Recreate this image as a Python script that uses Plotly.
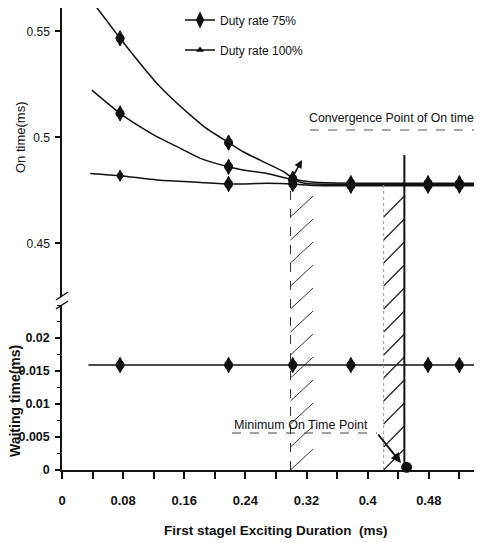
import plotly.graph_objects as go

# ---------------- data ----------------
# marker positions on the x axis (First stage Exciting Duration, ms)
marker_x = [0.076, 0.218, 0.302, 0.378, 0.479, 0.520]

# upper On-time curve (Duty rate 75%)
curve_a_x = [0.043, 0.076, 0.102, 0.124, 0.146, 0.168, 0.189, 0.218, 0.237, 0.268, 0.290, 0.305, 0.330, 0.378, 0.479, 0.520, 0.548]
curve_a_y = [0.5624, 0.5467, 0.5349, 0.5255, 0.5176, 0.5105, 0.5042, 0.4975, 0.4932, 0.4877, 0.4838, 0.4802, 0.4788, 0.4784, 0.4784, 0.4784, 0.4784]
marker_a_y = [0.5467, 0.4975, 0.4805, 0.4784, 0.4784, 0.4784]

# middle On-time curve
curve_b_x = [0.039, 0.076, 0.102, 0.124, 0.155, 0.181, 0.218, 0.237, 0.268, 0.294, 0.320, 0.378, 0.479, 0.520, 0.548]
curve_b_y = [0.5223, 0.5113, 0.5050, 0.5003, 0.4948, 0.4901, 0.4861, 0.4846, 0.4830, 0.4807, 0.4782, 0.4778, 0.4778, 0.4778, 0.4778]
marker_b_y = [0.5113, 0.4861, 0.4795, 0.4778, 0.4778, 0.4778]

# flat On-time curve (Duty rate 100%)
curve_c_x = [0.037, 0.076, 0.124, 0.168, 0.218, 0.268, 0.302, 0.330, 0.378, 0.479, 0.520, 0.548]
curve_c_y = [0.4830, 0.4819, 0.4799, 0.4790, 0.4780, 0.4783, 0.4780, 0.4773, 0.4772, 0.4772, 0.4772, 0.4772]
marker_c_y = [0.4819, 0.4780, 0.4780, 0.4772, 0.4772, 0.4772]

# waiting time
wait_line_x = [0.0345, 0.548]
wait_line_y = [0.0159, 0.0159]
wait_marker_y = [0.0159, 0.0159, 0.0159, 0.0159, 0.0159, 0.0159]

# minimum on-time point
min_point_x = [0.451]
min_point_y = [0.0004]

# convergence / minimum regions (x in ms) and levels
conv_region = [0.299, 0.3286]
min_region = [0.4209, 0.448]
converged_level = 0.4778
min_line_top = 0.4917

# ticks
x_tick_vals = [0, 0.08, 0.16, 0.24, 0.32, 0.40, 0.48]
x_tick_text = ["0", "0.08", "0.16", "0.24", "0.32", "0.4", "0.48"]
x_minor_vals = [0.04, 0.12, 0.20, 0.28, 0.36, 0.44, 0.52]
top_tick_vals = [0.45, 0.50, 0.55]
top_tick_text = ["0.45", "0.5", "0.55"]
bot_tick_vals = [0, 0.005, 0.01, 0.015, 0.02]
bot_tick_text = ["0", "0.005", "0.01", "0.015", "0.02"]

# ---------------- geometry ----------------
# the page body has an 8px margin, so the figure is drawn from (8, 8) of the window
WIN_W, WIN_H = 482, 543
BODY = 8
W, H = WIN_W - BODY, WIN_H - BODY
PLOT_L, PLOT_R, PLOT_T, PLOT_B = 62, 480, 8, 470   # plot area in window pixels
ML = PLOT_L - BODY
MR = WIN_W - PLOT_R
MT = PLOT_T - BODY
MB = WIN_H - PLOT_B
PW = PLOT_R - PLOT_L
PH = PLOT_B - PLOT_T


def pxx(px):
    return (px - PLOT_L) / PW


def pxy(py):
    return (PLOT_B - py) / PH


top_dom = [pxy(297), 1.0]
bot_dom = [0.0, pxy(305)]
top_range = [0.4247, 0.5610]
bot_range = [0.0, 0.025]
x_range = [0.0, 0.547]


def top_to_paper(v):
    return top_dom[0] + (v - top_range[0]) / (top_range[1] - top_range[0]) * (top_dom[1] - top_dom[0])


FONT = "Liberation Sans, Arial, sans-serif"
INK = "#111111"

fig = go.Figure()

line_style = dict(color=INK, width=1.5, shape="spline", smoothing=0.5)
for xs, ys in [(curve_a_x, curve_a_y), (curve_b_x, curve_b_y), (curve_c_x, curve_c_y)]:
    fig.add_trace(go.Scatter(x=xs, y=ys, mode="lines", line=line_style,
                             xaxis="x2", yaxis="y2", showlegend=False, hoverinfo="skip"))


def add_ovals(xs, ys, xa, ya, size=11):
    fig.add_trace(go.Scatter(x=xs, y=ys, mode="markers", xaxis=xa, yaxis=ya,
                             marker=dict(symbol="diamond-tall", size=size, color=INK,
                                         line=dict(width=1, color=INK)),
                             showlegend=False, hoverinfo="skip", cliponaxis=False))
    fig.add_trace(go.Scatter(x=xs, y=ys, mode="markers", xaxis=xa, yaxis=ya,
                             marker=dict(symbol="circle", size=size * 0.82, color=INK, line=dict(width=0)),
                             showlegend=False, hoverinfo="skip", cliponaxis=False))


add_ovals(marker_x, marker_a_y, "x2", "y2")
add_ovals(marker_x, marker_b_y, "x2", "y2")
add_ovals(marker_x[1:], marker_c_y[1:], "x2", "y2")
add_ovals(marker_x[:1], marker_c_y[:1], "x2", "y2", size=8)

# waiting time
fig.add_trace(go.Scatter(x=wait_line_x, y=wait_line_y, mode="lines", line=dict(color=INK, width=1.6),
                         xaxis="x", yaxis="y", showlegend=False, hoverinfo="skip"))
add_ovals(marker_x, wait_marker_y, "x", "y")

# minimum point dot
fig.add_trace(go.Scatter(x=min_point_x, y=min_point_y, mode="markers", xaxis="x", yaxis="y",
                         marker=dict(symbol="circle", size=11, color=INK), cliponaxis=False,
                         showlegend=False, hoverinfo="skip"))

# legend entries
fig.add_trace(go.Scatter(x=[None], y=[None], mode="lines+markers", name="Duty rate 75%",
                         line=dict(color=INK, width=1.4),
                         marker=dict(symbol="diamond-tall", size=12, color=INK),
                         legend="legend", xaxis="x2", yaxis="y2"))
fig.add_trace(go.Scatter(x=[None], y=[None], mode="lines+markers", name="Duty rate 100%",
                         line=dict(color=INK, width=1.4),
                         marker=dict(symbol="triangle-up", size=7, color=INK),
                         legend="legend2", xaxis="x2", yaxis="y2"))

# ---------------- shapes ----------------
shapes = []
# y-axis break marks
for py in (300, 309):
    shapes.append(dict(type="line", xref="paper", yref="paper",
                       x0=pxx(56), y0=pxy(py), x1=pxx(68), y1=pxy(py - 8),
                       line=dict(color=INK, width=1.5)))

strip_top = top_to_paper(converged_level)
step = 23 / PH
rise = 21 / PH


def hatch(x0, x1, width, color):
    yb = 0.0
    while yb + rise <= strip_top + 1e-9:
        shapes.append(dict(type="line", xref="x", yref="paper", x0=x0, y0=yb, x1=x1, y1=yb + rise,
                           line=dict(color=color, width=width)))
        yb += step


hatch(conv_region[0], conv_region[1], 1.0, "#333333")
hatch(min_region[0], min_region[1], 1.2, "#222222")

# dashed left edge of convergence region
shapes.append(dict(type="line", xref="x", yref="paper", x0=conv_region[0], x1=conv_region[0],
                   y0=0, y1=strip_top, line=dict(color="#333333", width=1, dash="dash")))
# dotted left edge of minimum region
shapes.append(dict(type="line", xref="x", yref="paper", x0=min_region[0], x1=min_region[0],
                   y0=0, y1=strip_top, line=dict(color="#999999", width=1, dash="dot")))
# solid line at minimum point
shapes.append(dict(type="line", xref="x", yref="paper", x0=min_region[1], x1=min_region[1],
                   y0=0, y1=top_to_paper(min_line_top), line=dict(color=INK, width=2)))

# underlines for the callouts
shapes.append(dict(type="line", xref="paper", yref="paper", x0=pxx(310), x1=pxx(482),
                   y0=pxy(130), y1=pxy(130), line=dict(color="#555555", width=1, dash="dash")))
shapes.append(dict(type="line", xref="paper", yref="paper", x0=pxx(232), x1=pxx(377),
                   y0=pxy(433), y1=pxy(433), line=dict(color="#444444", width=1, dash="dash")))

# ---------------- annotations ----------------
annotations = [
    dict(text="Convergence Point of On time", xref="paper", yref="paper", x=pxx(307), y=pxy(118),
         xanchor="left", yanchor="middle", showarrow=False, font=dict(size=12.3, color=INK)),
    dict(text="", xref="paper", yref="paper", x=pxx(302), y=pxy(160), ax=-10, ay=18,
         showarrow=True, arrowhead=2, arrowsize=1, arrowwidth=1.6, arrowcolor=INK),
    dict(text="Minimum On Time Point", xref="paper", yref="paper", x=pxx(232), y=pxy(425),
         xanchor="left", yanchor="middle", showarrow=False, font=dict(size=12.5, color=INK)),
    dict(text="", xref="paper", yref="paper", x=pxx(401), y=pxy(463), ax=-24, ay=-30,
         showarrow=True, arrowhead=2, arrowsize=1, arrowwidth=2, arrowcolor=INK),
    dict(text="On time(ms)", xref="paper", yref="paper", x=pxx(20), y=pxy(137),
         textangle=-90, showarrow=False, xanchor="center", yanchor="middle",
         font=dict(size=13, color=INK)),
    dict(text="<b>Waiting time(ms)</b>", xref="paper", yref="paper", x=pxx(15), y=pxy(401),
         textangle=-90, showarrow=False, xanchor="center", yanchor="middle",
         font=dict(size=14, color=INK)),
    dict(text="<b>First stagel Exciting Duration&nbsp; (ms)</b>", xref="paper", yref="paper",
         x=pxx(276), y=pxy(530), showarrow=False, xanchor="center", yanchor="middle",
         font=dict(size=13.5, color=INK)),
]

axis_common = dict(showline=True, linecolor=INK, linewidth=1.5, showgrid=False, zeroline=False,
                   ticks="outside", tickcolor=INK, tickwidth=1.5)

fig.update_layout(
    width=W, height=H,
    margin=dict(l=ML, r=MR, t=MT, b=MB, pad=0, autoexpand=False),
    paper_bgcolor="white", plot_bgcolor="white",
    font=dict(family=FONT, size=12, color=INK),
    xaxis=dict(domain=[0, 1], range=x_range, anchor="y", tickvals=x_tick_vals, ticktext=x_tick_text,
               ticklen=7, tickfont=dict(size=13, weight="bold"), ticklabelstandoff=11,
               minor=dict(tickvals=x_minor_vals, ticks="outside", ticklen=7, tickwidth=1.5,
                          tickcolor=INK, showgrid=False),
               **axis_common),
    xaxis2=dict(domain=[0, 1], range=x_range, anchor="y2", matches="x", visible=False),
    yaxis=dict(domain=bot_dom, range=bot_range, anchor="x", tickvals=bot_tick_vals, ticktext=bot_tick_text,
               ticklen=5, tickfont=dict(size=12.5, weight="bold"), ticklabelstandoff=3,
               minor=dict(dtick=0.0025, ticks="outside", ticklen=3, tickwidth=1, tickcolor=INK,
                          showgrid=False),
               **axis_common),
    yaxis2=dict(domain=top_dom, range=top_range, anchor="x2", tickvals=top_tick_vals, ticktext=top_tick_text,
                ticklen=5, tickfont=dict(size=12), ticklabelstandoff=3, **axis_common),
    legend=dict(x=pxx(180), y=pxy(20), xanchor="left", yanchor="middle", bgcolor="rgba(0,0,0,0)",
                font=dict(size=12, color=INK), borderwidth=0),
    legend2=dict(x=pxx(180), y=pxy(50), xanchor="left", yanchor="middle", bgcolor="rgba(0,0,0,0)",
                 font=dict(size=12, color=INK), borderwidth=0),
    shapes=shapes,
    annotations=annotations,
)

fig.write_html("out.html")
